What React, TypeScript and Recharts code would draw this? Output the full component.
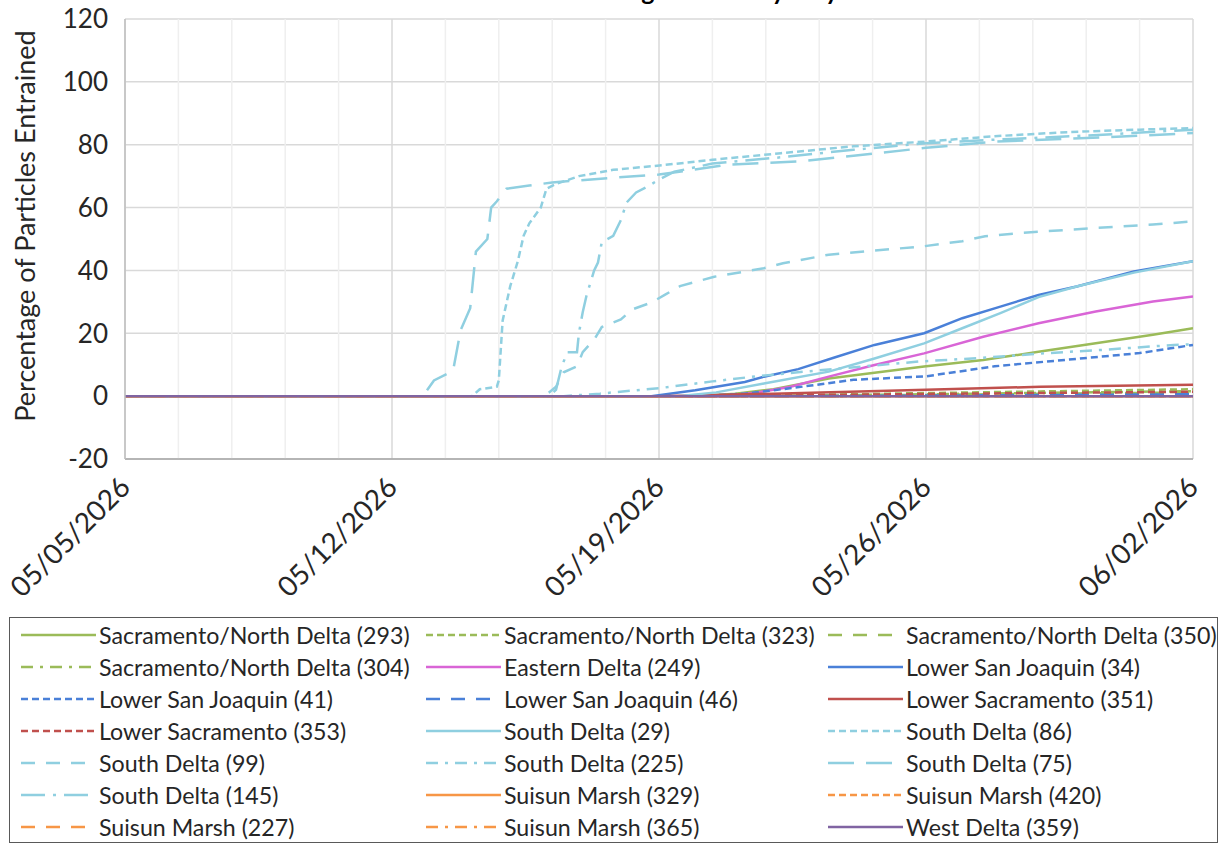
import React from "react";
import { LineChart, Line, XAxis, YAxis, CartesianGrid, ReferenceLine } from "recharts";

type Pt = [number, number];

// x values are days after 05/05/2026
const xTickDays = [0, 7, 14, 21, 28];
const xTickLabels = ["05/05/2026", "05/12/2026", "05/19/2026", "05/26/2026", "06/02/2026"];
const yTicks = [-20, 0, 20, 40, 60, 80, 100, 120];

const sacNorth293: Pt[] = [[0, 0], [15, 0], [16, 0.8], [17, 2.2], [18.45, 5.6], [20.95, 9.4], [22.5, 11.5], [23.95, 14.1], [25.45, 16.8], [26.95, 19.5], [28, 21.6]];
const sacNorth323: Pt[] = [[0, 0], [16, 0], [20, 0.8], [24, 1.5], [28, 2.2]];
const sacNorth350: Pt[] = [[0, 0], [17, 0], [22, 0.5], [28, 1.2]];
const sacNorth304: Pt[] = [[0, 0], [16, 0], [21, 0.6], [28, 1.6]];
const eastern249: Pt[] = [[0, 0], [15.5, 0], [16.5, 1], [17.45, 3], [18.45, 6.2], [19.65, 9.9], [20.95, 13.6], [22.5, 18.9], [23.95, 23.2], [25.45, 26.9], [26.95, 30.1], [28, 31.7]];
const lowerSJ34: Pt[] = [[0, 0], [13.8, 0], [14.95, 1.9], [16.25, 4.5], [16.75, 6.2], [17.65, 8.6], [18.6, 12.3], [19.65, 16.3], [20.95, 20], [21.95, 24.8], [22.95, 28.5], [23.95, 32.2], [24.95, 34.9], [26.45, 39.7], [28, 42.9]];
const lowerSJ41: Pt[] = [[0, 0], [15, 0], [16.25, 0.8], [17.5, 2.6], [19.1, 5.2], [21, 6.3], [22.8, 9.5], [24.7, 11.6], [26.6, 13.7], [28, 16.3]];
const lowerSJ46: Pt[] = [[0, 0], [18, 0], [28, 0.6]];
const lowerSac351: Pt[] = [[0, 0], [14, 0], [17, 0.8], [21, 2], [24, 3], [28, 3.6]];
const lowerSac353: Pt[] = [[0, 0], [16, 0], [21, 0.7], [28, 1.4]];
const south29: Pt[] = [[0, 0], [14.5, 0], [15.5, 1.2], [16.75, 4], [18.45, 7.8], [19.65, 12], [20.95, 16.8], [21.95, 21.6], [22.95, 26.4], [23.95, 31.5], [24.95, 34.9], [26.45, 39.3], [28, 42.9]];
const south86: Pt[] = [[0, 0], [9.1, 0], [9.3, 2.2], [9.75, 3], [9.8, 5], [9.9, 24], [10.1, 35], [10.3, 43], [10.45, 51], [10.6, 55], [10.9, 60], [11.05, 66], [11.3, 67.5], [11.9, 70], [12.8, 72], [14.1, 73.5], [15.4, 75.2], [17.2, 77.3], [19.1, 79.5], [21, 81], [22.8, 82.7], [24.7, 84], [26.6, 84.8], [28, 85.3]];
const south99: Pt[] = [[0, 0], [11, 0], [11.3, 3], [11.5, 7.6], [11.85, 9.5], [12, 14], [12.3, 18], [12.5, 22], [13, 24.4], [13.3, 27.6], [13.8, 29.8], [14.15, 32.2], [14.55, 35], [15.45, 38], [16.75, 40.7], [17.25, 42.3], [18.45, 45], [20.95, 47.7], [21.95, 49.3], [22.55, 50.9], [23.45, 51.9], [25.45, 53.5], [26.95, 54.6], [28, 55.6]];
const south225: Pt[] = [[0, 0], [11.5, 0], [12.45, 0.8], [14.05, 2.6], [15.4, 4.7], [16.55, 6.3], [17.9, 7.9], [20.8, 11], [22.35, 12.1], [24.2, 13.7], [25.6, 14.7], [27.5, 16.3], [28, 16.5]];
const south75: Pt[] = [[0, 0], [7.7, 0], [7.9, 1.6], [8.1, 5], [8.6, 8], [8.8, 21], [9.05, 28], [9.2, 46], [9.5, 50], [9.6, 60], [9.75, 62], [10, 66], [10.6, 67], [11.2, 68], [12.8, 69.5], [14, 70.5], [15.8, 73.6], [17.7, 74.7], [19.1, 76.5], [21, 79], [22.8, 81], [25.2, 82.1], [28, 83.7]];
const south145: Pt[] = [[0, 0], [11.1, 0], [11.3, 2], [11.45, 9.5], [11.6, 14], [11.85, 14], [11.9, 20], [12, 26.7], [12.1, 32], [12.3, 40], [12.4, 42.5], [12.5, 49], [12.8, 51], [13, 56], [13.15, 61.6], [13.4, 64.8], [13.7, 66.7], [14, 68.9], [14.4, 71.4], [15.4, 74], [17.2, 76], [19.1, 78.4], [21, 80.5], [22.8, 81.6], [25.2, 82.9], [28, 84.8]];
const suisun329: Pt[] = [[0, 0], [28, 0]];
const suisun420: Pt[] = [[0, 0], [28, 0]];
const suisun227: Pt[] = [[0, 0], [28, 0]];
const suisun365: Pt[] = [[0, 0], [28, 0]];
const west359: Pt[] = [[0, 0], [28, 0]];

const FONT = "Lato, 'Open Sans', sans-serif";
const GREEN = "#9BBB59";
const MAGENTA = "#D965D6";
const BLUE = "#4A80D8";
const RED = "#C0504D";
const LIGHTBLUE = "#8FCFE0";
const ORANGE = "#F79646";
const PURPLE = "#8064A2";

const SOLID = undefined;
const SYS_DASH = "7 4";
const DASH = "14 11";
const LG_DASH = "26 12";
const DASH_DOT = "12 7 3 7";
const LG_DASH_DOT = "24 8 3 8";

const series = [
  { name: "Sacramento/North Delta (293)", pts: sacNorth293, color: GREEN, dash: SOLID },
  { name: "Sacramento/North Delta (323)", pts: sacNorth323, color: GREEN, dash: SYS_DASH },
  { name: "Sacramento/North Delta (350)", pts: sacNorth350, color: GREEN, dash: DASH },
  { name: "Sacramento/North Delta (304)", pts: sacNorth304, color: GREEN, dash: DASH_DOT },
  { name: "Eastern Delta (249)", pts: eastern249, color: MAGENTA, dash: SOLID },
  { name: "Lower San Joaquin (34)", pts: lowerSJ34, color: BLUE, dash: SOLID },
  { name: "Lower San Joaquin (41)", pts: lowerSJ41, color: BLUE, dash: SYS_DASH },
  { name: "Lower San Joaquin (46)", pts: lowerSJ46, color: BLUE, dash: DASH },
  { name: "Lower Sacramento (351)", pts: lowerSac351, color: RED, dash: SOLID },
  { name: "Lower Sacramento (353)", pts: lowerSac353, color: RED, dash: SYS_DASH },
  { name: "South Delta (29)", pts: south29, color: LIGHTBLUE, dash: SOLID },
  { name: "South Delta (86)", pts: south86, color: LIGHTBLUE, dash: SYS_DASH },
  { name: "South Delta (99)", pts: south99, color: LIGHTBLUE, dash: DASH },
  { name: "South Delta (225)", pts: south225, color: LIGHTBLUE, dash: DASH_DOT },
  { name: "South Delta (75)", pts: south75, color: LIGHTBLUE, dash: LG_DASH },
  { name: "South Delta (145)", pts: south145, color: LIGHTBLUE, dash: LG_DASH_DOT },
  { name: "Suisun Marsh (329)", pts: suisun329, color: ORANGE, dash: SOLID },
  { name: "Suisun Marsh (420)", pts: suisun420, color: ORANGE, dash: SYS_DASH },
  { name: "Suisun Marsh (227)", pts: suisun227, color: ORANGE, dash: DASH },
  { name: "Suisun Marsh (365)", pts: suisun365, color: ORANGE, dash: DASH_DOT },
  { name: "West Delta (359)", pts: west359, color: PURPLE, dash: SOLID },
];

// Excel-style minor gridlines: 5 per week
const minorGridDays: number[] = [];
for (let i = 1; i < 20; i++) if (i % 5 !== 0) minorGridDays.push(i * 1.4);

const DateTick = (props: any) => {
  const { x, y, payload } = props;
  const ax = x + 7;
  const ay = y + 22;
  return (
    <text x={ax} y={ay} transform={`rotate(-45 ${ax} ${ay})`} textAnchor="end" fontSize={28} fill="#262626" fontFamily={FONT}>
      {xTickLabels[xTickDays.indexOf(payload.value)]}
    </text>
  );
};

const YLabel = () => (
  <text x={35} y={226} transform="rotate(-90 35 226)" textAnchor="middle" fontSize={27} fill="#262626" fontFamily={FONT}>
    Percentage of Particles Entrained
  </text>
);

const legendCols = [11, 416, 818];

export default function App() {
  return (
    <div style={{ position: "absolute", left: 0, top: 0, width: 1223, height: 844, overflow: "hidden", background: "#fff", fontFamily: FONT }}>
      <div style={{ position: "absolute", left: 36, top: -25, width: 1223, textAlign: "center", fontSize: 25, fontWeight: 700, color: "#000", lineHeight: "30px", letterSpacing: 1 }}>
        Particle Tracking Results by Day
      </div>
      <LineChart width={1223} height={617} margin={{ top: 19, right: 30, bottom: 0, left: 0 }}>
        <CartesianGrid stroke="#d9d9d9" strokeWidth={1.5} />
        {minorGridDays.map((d) => (
          <ReferenceLine key={d} x={d} stroke="#efefef" strokeWidth={1.5} />
        ))}
        <XAxis
          type="number"
          dataKey="day"
          domain={[0, 28]}
          ticks={xTickDays}
          tick={<DateTick />}
          tickLine={false}
          height={158}
          axisLine={{ stroke: "#a6a6a6", strokeWidth: 1.5 }}
          allowDataOverflow
        />
        <YAxis
          type="number"
          domain={[-20, 120]}
          ticks={yTicks}
          width={125}
          tickLine={false}
          tickSize={6}
          tickMargin={11}
          axisLine={{ stroke: "#bfbfbf", strokeWidth: 1.5 }}
          tick={{ fontSize: 26, fill: "#262626", fontFamily: FONT }}
          label={<YLabel />}
        />
        {series.map((s) => (
          <Line
            key={s.name}
            name={s.name}
            data={s.pts.map(([day, v]) => ({ day, v }))}
            dataKey="v"
            type="linear"
            stroke={s.color}
            strokeWidth={2.5}
            strokeDasharray={s.dash}
            dot={false}
            activeDot={false}
            isAnimationActive={false}
          />
        ))}
      </LineChart>
      <div style={{ position: "absolute", left: 9, top: 617, width: 1209, height: 226, border: "1.5px solid #595959", boxSizing: "border-box", background: "#fff" }}>
        {series.map((s, i) => (
          <div
            key={s.name}
            style={{ position: "absolute", left: legendCols[i % 3], top: 1 + Math.floor(i / 3) * 32, height: 32, display: "flex", alignItems: "center", whiteSpace: "nowrap" }}
          >
            <svg width={75} height={10}>
              <line x1={0} y1={5} x2={75} y2={5} stroke={s.color} strokeWidth={2.5} strokeDasharray={s.dash} />
            </svg>
            <span style={{ marginLeft: 3, fontSize: 23.2, color: "#262626" }}>{s.name}</span>
          </div>
        ))}
      </div>
    </div>
  );
}
